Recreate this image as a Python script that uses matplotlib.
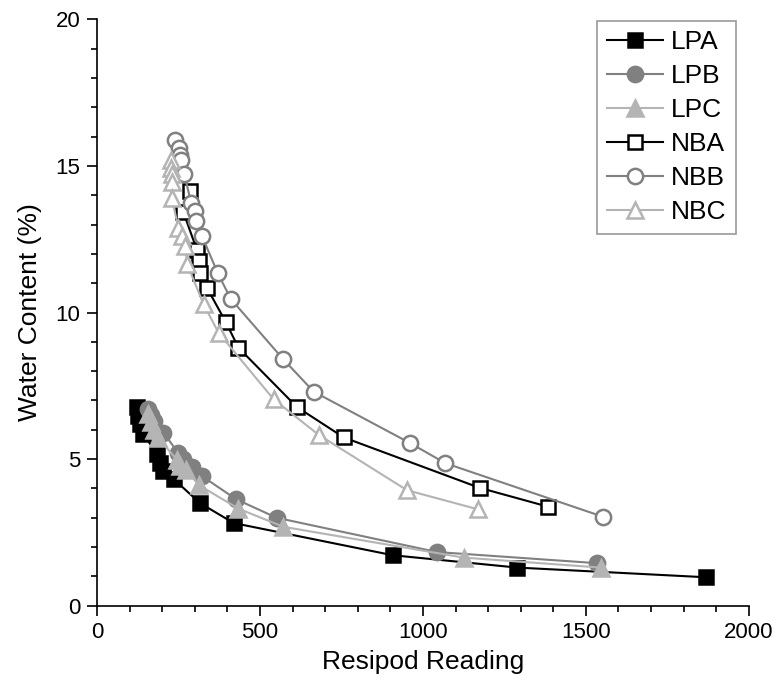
import matplotlib
matplotlib.use("Agg")
import matplotlib.pyplot as plt
from matplotlib.ticker import MultipleLocator

plt.rcParams['font.family'] = ['Liberation Sans', 'DejaVu Sans']

series_names = ["LPA", "LPB", "LPC", "NBA", "NBB", "NBC"]

lpa_x = [122, 127, 132, 142, 185, 194, 204, 235, 316, 419, 908, 1289, 1868]
lpa_y = [6.78, 6.47, 6.19, 5.85, 5.17, 4.88, 4.60, 4.32, 3.50, 2.82, 1.72, 1.30, 0.97]

lpb_x = [158, 165, 175, 204, 250, 265, 290, 322, 427, 551, 1043, 1534]
lpb_y = [6.70, 6.50, 6.30, 5.90, 5.20, 5.00, 4.73, 4.42, 3.63, 3.00, 1.83, 1.45]

lpc_x = [158, 166, 174, 188, 245, 256, 273, 313, 434, 572, 1125, 1545]
lpc_y = [6.55, 6.27, 5.98, 5.72, 4.98, 4.78, 4.63, 4.11, 3.31, 2.69, 1.64, 1.30]

nba_x = [284, 265, 306, 314, 316, 337, 395, 434, 613, 757, 1174, 1383]
nba_y = [14.15, 13.43, 12.15, 11.75, 11.36, 10.85, 9.68, 8.80, 6.78, 5.74, 4.02, 3.38]

nbb_x = [240, 252, 255, 258, 268, 289, 301, 303, 322, 370, 410, 572, 665, 960, 1069, 1551]
nbb_y = [15.87, 15.62, 15.39, 15.22, 14.71, 13.74, 13.48, 13.12, 12.61, 11.36, 10.47, 8.40, 7.30, 5.55, 4.86, 3.04]

nbc_x = [227, 227, 229, 229, 229, 250, 260, 270, 277, 327, 373, 542, 680, 951, 1168]
nbc_y = [15.22, 14.93, 14.71, 14.45, 13.91, 12.89, 12.61, 12.27, 11.64, 10.28, 9.31, 7.04, 5.83, 3.94, 3.29]

fig = plt.figure(figsize=(7.76, 6.93), dpi=100)
ax = fig.add_axes([0.125, 0.126, 0.840, 0.846])

black = "#000000"
gray = "#808080"
light = "#b4b4b4"

ms = 10
mew = 1.8
lw = 1.5

ax.plot(lpa_x, lpa_y, color=black, lw=lw, marker='s', ms=ms, mfc=black, mec=black, mew=mew, label="LPA")
ax.plot(lpb_x, lpb_y, color=gray, lw=lw, marker='o', ms=ms + 1, mfc=gray, mec=gray, mew=mew, label="LPB")
ax.plot(lpc_x, lpc_y, color=light, lw=lw, marker='^', ms=ms + 2, mfc=light, mec=light, mew=mew, label="LPC")
ax.plot(nba_x, nba_y, color=black, lw=lw, marker='s', ms=ms, mfc='white', mec=black, mew=mew, label="NBA")
ax.plot(nbb_x, nbb_y, color=gray, lw=lw, marker='o', ms=ms + 1, mfc='white', mec=gray, mew=mew, label="NBB")
ax.plot(nbc_x, nbc_y, color=light, lw=lw, marker='^', ms=ms + 2, mfc='white', mec=light, mew=mew, label="NBC")

ax.set_xlim(0, 2000)
ax.set_ylim(0, 20)
ax.xaxis.set_major_locator(MultipleLocator(500))
ax.xaxis.set_minor_locator(MultipleLocator(100))
ax.yaxis.set_major_locator(MultipleLocator(5))
ax.yaxis.set_minor_locator(MultipleLocator(1))

for s in ["top", "right"]:
    ax.spines[s].set_visible(False)
for s in ["left", "bottom"]:
    ax.spines[s].set_linewidth(1.2)

ax.tick_params(which='major', direction='out', length=7, width=1.2, labelsize=16, pad=5)
ax.tick_params(which='minor', direction='out', length=4, width=1.2)

ax.set_xlabel("Resipod Reading", fontsize=19, labelpad=5)
ax.set_ylabel("Water Content (%)", fontsize=19, labelpad=10)

leg = ax.legend(loc='upper right', bbox_to_anchor=(736 / 776, (693 - 21) / 693),
                bbox_transform=fig.transFigure, fontsize=19, frameon=True,
                fancybox=False, edgecolor="#808080", handlelength=2.15,
                labelspacing=0.38, borderpad=0.35, handletextpad=0.3, borderaxespad=0)
leg.get_frame().set_linewidth(1.2)

fig.savefig("out.png", dpi=100)
